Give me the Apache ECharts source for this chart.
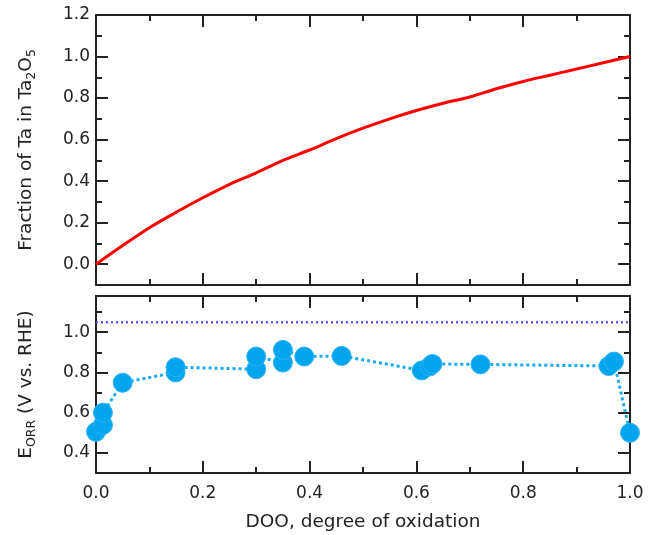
<!DOCTYPE html>
<html><head><meta charset="utf-8">
<script src="https://cdn.jsdelivr.net/npm/echarts@6/dist/echarts.min.js"></script>
<style>html,body{margin:0;padding:0;background:#fff}#c{width:648px;height:535px}</style>
</head><body><div id="c"></div>
<script>
// Top panel: fraction of Ta in Ta2O5 vs DOO
const curveX = [0, 0.05, 0.1, 0.15, 0.2, 0.25, 0.3, 0.35, 0.4, 0.45, 0.5, 0.55, 0.6, 0.65, 0.7, 0.75, 0.8, 0.85, 0.9, 0.95, 1.0];
const curveY = [0, 0.09, 0.176, 0.25, 0.32, 0.385, 0.44, 0.50, 0.55, 0.605, 0.655, 0.70, 0.74, 0.775, 0.805, 0.845, 0.88, 0.91, 0.94, 0.97, 1.0];
// Bottom panel: E_ORR vs DOO
const dooX  = [0, 0.013, 0.013, 0.05, 0.149, 0.149, 0.30, 0.30, 0.35, 0.35, 0.39, 0.46, 0.61, 0.625, 0.63, 0.72, 0.96, 0.97, 1.0];
const eorrY = [0.505, 0.539, 0.60, 0.749, 0.80, 0.826, 0.816, 0.879, 0.849, 0.912, 0.879, 0.882, 0.81, 0.83, 0.842, 0.84, 0.832, 0.854, 0.50];
const refLineX = [0, 1];
const refLineY = [1.05, 1.05];
// Tick values
const topYMajor = [0, 0.2, 0.4, 0.6, 0.8, 1.0, 1.2];
const topYMinor = [0.1, 0.3, 0.5, 0.7, 0.9, 1.1];
const botYMajor = [0.4, 0.6, 0.8, 1.0];
const botYMinor = [0.5, 0.7, 0.9, 1.1];

const FONT = 'DejaVu Sans';
const INK = '#222';
const lineSt = {color: INK, width: 2};
const tickSt = {color: INK, width: 2};

function xAxes(grid, showLabel, name) {
  const base = {
    type: 'value', gridIndex: grid, min: 0, max: 1, interval: 0.2,
    axisLine: {show: true, onZero: false, lineStyle: lineSt},
    axisTick: {show: true, inside: true, length: 12, lineStyle: tickSt},
    minorTick: {show: true, splitNumber: 2, length: 6, lineStyle: tickSt},
    splitLine: {show: false}, minorSplitLine: {show: false}
  };
  return [
    Object.assign({}, base, {position: 'bottom',
      axisLabel: {show: showLabel, fontFamily: FONT, fontSize: 17, color: INK, margin: 12,
        formatter: v => v.toFixed(1)},
      name: name || '', nameLocation: 'middle', nameGap: 40,
      nameTextStyle: {fontFamily: FONT, fontSize: 18.5, color: INK}}),
    Object.assign({}, base, {position: 'top', axisLabel: {show: false}})
  ];
}

function yAxes(grid, min, max, major, minor, name, rich) {
  const common = {type: 'value', gridIndex: grid, min: min, max: max,
    splitLine: {show: false}};
  const mk = (pos, vals, len, labels, line) => Object.assign({}, common, {
    position: pos,
    axisLine: {show: line, onZero: false, lineStyle: lineSt},
    axisTick: {show: true, inside: true, length: len, lineStyle: tickSt, customValues: vals},
    axisLabel: labels ? {show: true, customValues: vals, fontFamily: FONT, fontSize: 17, color: INK, margin: 6,
      formatter: v => v.toFixed(1)} : {show: false}
  });
  const left = mk('left', major, 12, true, true);
  left.name = name; left.nameLocation = 'middle'; left.nameGap = 58;
  left.nameTextStyle = {rich: rich};
  return [
    left,
    mk('left', minor, 6, false, false),
    mk('right', major, 12, false, true),
    mk('right', minor, 6, false, false)
  ];
}

const richTxt = {
  n: {fontFamily: FONT, fontSize: 18.5, color: INK, lineHeight: 24, verticalAlign: 'middle'},
  s: {fontFamily: FONT, fontSize: 12.5, color: INK, lineHeight: 10, verticalAlign: 'bottom'}
};

const chart = echarts.init(document.getElementById('c'), null, {renderer: 'canvas'});
chart.setOption({
  animation: false,
  backgroundColor: '#fff',
  grid: [
    {left: 96, top: 15, width: 534, height: 270},
    {left: 96, top: 296, width: 534, height: 177}
  ],
  xAxis: [].concat(xAxes(0, false), xAxes(1, true, 'DOO, degree of oxidation')),
  yAxis: [].concat(
    yAxes(0, -0.1, 1.2, topYMajor, topYMinor, '{n|Fraction of Ta in Ta}{s|2}{n|O}{s|5}', richTxt),
    yAxes(1, 0.3, 1.18, botYMajor, botYMinor, '{n|E}{s|ORR}{n| (V vs. RHE)}', richTxt)
  ),
  series: [
    {type: 'line', xAxisIndex: 0, yAxisIndex: 0, smooth: 0.3, showSymbol: false,
     data: curveX.map((x, i) => [x, curveY[i]]),
     lineStyle: {color: '#ff0000', width: 3}},
    {type: 'line', xAxisIndex: 2, yAxisIndex: 4, showSymbol: false,
     data: refLineX.map((x, i) => [x, refLineY[i]]),
     lineStyle: {color: '#5b5bf2', width: 2.5, type: [2, 3]}},
    {type: 'line', xAxisIndex: 2, yAxisIndex: 4, symbol: 'circle', symbolSize: 19,
     data: dooX.map((x, i) => [x, eorrY[i]]),
     lineStyle: {color: '#17aaf0', width: 3, type: [3, 3]},
     itemStyle: {color: '#03a6ee', borderColor: '#2bb3f2', borderWidth: 1}}
  ]
});
</script></body></html>
